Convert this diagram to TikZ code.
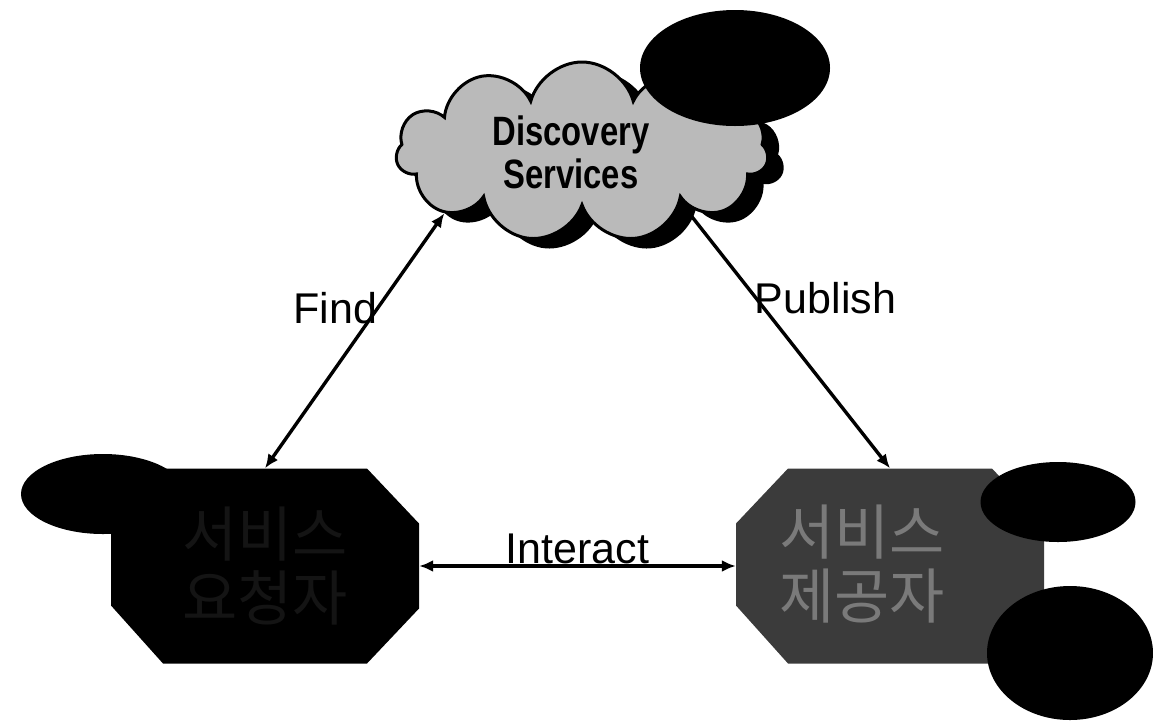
\documentclass[tikz,border=0pt]{standalone}
\usepackage{fontspec}
\setmainfont{Liberation Sans}
\newfontfamily\cloudfont[FakeStretch=0.8]{Liberation Sans}
\newfontfamily\krfont{Noto Sans CJK KR}
\usetikzlibrary{shapes.symbols,shapes.geometric,arrows.meta,calc}

\begin{document}
\begin{tikzpicture}[x=1pt,y=-1pt,
    actor/.style={rectangle, inner sep=0pt, minimum width=308pt, minimum height=195pt,
                  path picture={\fill[#1]
                    ($(path picture bounding box.north west)+(52,0)$) --
                    ($(path picture bounding box.north east)+(-52,0)$) --
                    ($(path picture bounding box.north east)+(0,55)$) --
                    ($(path picture bounding box.south east)+(0,-55)$) --
                    ($(path picture bounding box.south east)+(-52,0)$) --
                    ($(path picture bounding box.south west)+(52,0)$) --
                    ($(path picture bounding box.south west)+(0,-58)$) --
                    ($(path picture bounding box.north west)+(0,55)$) -- cycle;}},
    krtext/.style={align=center, font=\krfont\fontsize{60}{64}\selectfont},
    blob/.style={ellipse, fill=black, inner sep=0pt},
    link/.style={line width=3.4pt, {Latex[length=14pt,width=12pt]}-{Latex[length=14pt,width=12pt]}},
    lbl/.style={font=\fontsize{43}{46}\selectfont}]
    \useasboundingbox (0,0) rectangle (1153,724);

    \coordinate (Cloud) at (582,152);
    \coordinate (Requester) at (265,566);
    \coordinate (Provider) at (890,566);

    % discovery cloud with its shadow
    \node[cloud, cloud puffs=11, cloud ignores aspect, fill=black,
          minimum width=372pt, minimum height=180pt] at (598,162) {};
    \node[cloud, cloud puffs=11, cloud ignores aspect, draw, line width=3pt, fill=black!27,
          minimum width=372pt, minimum height=180pt, align=center,
          font=\cloudfont\bfseries\fontsize{41}{43}\selectfont] (ds) at (Cloud)
          {\hspace*{-22pt}Discovery\\\hspace*{-22pt}Services};
    \node[blob, minimum width=190pt, minimum height=116pt] (dsdot) at (735,68) {};

    % requester and provider
    \node[actor=black, label={[krtext, text=black!92]center:서비스\\요청자}] (req) at (Requester) {};
    \node[blob, minimum width=164pt, minimum height=80pt] (reqdot) at (103,494) {};

    \node[actor=black!77, label={[krtext, text=black!52, xshift=-28pt, yshift=2pt]center:서비스\\제공자}] (prov) at (Provider) {};
    \node[blob, minimum width=155pt, minimum height=80pt] (provdot) at (1058,502) {};
    \node[blob, minimum width=166pt, minimum height=134pt] (provdot2) at (1070,653) {};

    % connectors
    \draw[link] (ds.204) -- (req.north) node[lbl, pos=0.37, left=-4pt] {Find};
    \draw[link] (ds.333) -- (prov.north) node[lbl, pos=0.36, right=-6pt] {Publish};
    \draw[link] (req.east) -- (prov.west) node[lbl, midway, above=-3pt] {Interact};
\end{tikzpicture}
\end{document}
